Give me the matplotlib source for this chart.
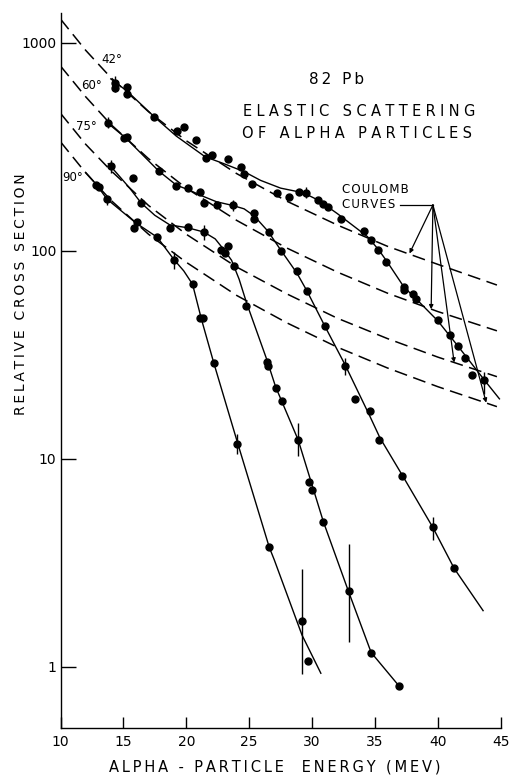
import matplotlib
matplotlib.use("Agg")
import matplotlib.pyplot as plt

# ---- Coulomb (point-charge) curves, dashed ----
coul_x = [10, 12, 14, 17, 20, 24, 28, 32, 36, 40, 44.7]
coul_42 = [1300, 920, 680, 466, 338, 235, 173, 133, 105, 86, 68.4]
coul_60 = [773, 550, 405, 277, 200, 140, 103, 79, 62.5, 51, 41.2]
coul_75 = [458, 325, 243, 165, 120, 83.5, 62, 47.4, 37.8, 30.8, 24.8]
coul_90 = [334, 237, 175, 120, 88, 61, 45, 34.4, 27.3, 22.2, 17.8]

# ---- smooth curves drawn through the measurements ----
fit42_x = [14.0, 15.3, 17.5, 19.2, 21.5, 23.0, 24.6, 25.9, 27.5, 29.3, 30.5, 32.0,
           34.4, 35.3, 36.0, 37.3, 38.3, 40.0, 41.6, 43.7, 44.9]
fit42_y = [670, 585, 438, 356, 283, 262, 240, 218, 200, 190, 175, 151,
           117, 101, 88, 67, 58.5, 46, 34.8, 23.9, 19.4]
fit60_x = [13.6, 15.2, 17.8, 19.2, 20.2, 21.3, 22.4, 23.7, 24.6, 25.4, 26.5, 27.5,
           28.8, 29.6, 31.0, 32.6, 34.6, 35.4, 37.2, 39.6, 41.3, 43.6]
fit60_y = [418, 348, 242, 207, 196, 183, 172, 165, 159, 147, 124, 101,
           78, 64, 43.6, 28.5, 16.0, 12.6, 8.28, 4.68, 2.97, 1.86]
fit75_x = [13.8, 14.5, 15.5, 16.4, 17.5, 18.7, 20.1, 21.4, 22.3, 23.0, 23.6, 24.2,
           24.8, 26.4, 27.1, 28.9, 30.9, 32.9, 34.7, 36.9]
fit75_y = [262, 235, 200, 170, 148, 133, 129, 123, 114, 101, 90, 73,
           56, 30, 22.2, 12.3, 4.98, 2.3, 1.17, 0.81]
fit90_x = [12.0, 12.8, 13.7, 16.0, 17.7, 19.0, 19.8, 20.5, 21.2, 22.2, 24.1, 26.6,
           27.0, 29.2, 30.7]
fit90_y = [238, 210, 177, 136, 116, 91, 80, 69, 47, 28.7, 11.8, 3.75,
           3.26, 1.42, 0.93]

# ---- measured points ----
pts42_x = [14.34, 14.34, 15.27, 15.31, 17.46, 19.24, 19.82, 20.75, 21.55, 22.03, 23.35,
           24.34, 24.62, 25.24, 27.25, 28.2, 29.0, 29.53, 30.49, 30.9, 31.3, 32.29,
           34.15, 34.68, 35.28, 35.87, 37.3, 37.35, 38.0, 38.26, 40.0, 40.93, 41.57,
           42.18, 42.68, 43.7]
pts42_y = [642, 604, 611, 565, 438, 377, 392, 341, 280, 290, 277,
           253, 234, 210, 190, 182, 192, 190, 175, 168, 163, 142,
           124, 112, 101, 88, 67, 65, 61.7, 58.6, 46.3, 39.3, 34.8,
           30.4, 25.3, 23.9]
pts60_x = [13.8, 15.08, 15.27, 17.84, 19.19, 20.17, 21.12, 21.42, 22.43, 23.7, 25.42,
           25.42, 26.56, 27.5, 28.84, 29.58, 31.02, 32.63, 33.43, 34.57, 35.36, 37.19,
           39.6, 41.28]
pts60_y = [412, 349, 351, 241, 205, 200, 192, 169, 166, 165, 152,
           142, 123, 100, 80, 64.3, 43.6, 27.9, 19.4, 17.0, 12.3, 8.28,
           4.68, 2.97]
pts75_x = [14.02, 15.74, 16.4, 18.71, 20.12, 21.42, 22.77, 23.09, 23.35, 23.83, 24.73,
           26.4, 26.53, 27.14, 27.65, 28.92, 29.77, 29.98, 30.91, 32.93, 34.7, 36.93]
pts75_y = [255, 223, 169, 128, 130, 123, 101, 97, 105, 84.7, 54.2,
           29.3, 27.9, 21.9, 18.9, 12.3, 7.75, 7.07, 4.98, 2.3, 1.17, 0.81]
pts90_x = [12.8, 13.09, 13.68, 15.87, 16.06, 17.7, 19.03, 20.52, 21.1, 21.31, 22.21,
           24.07, 26.6, 29.19, 29.67]
pts90_y = [208, 203, 177, 128, 137, 116, 90, 69, 47.3, 47.3, 28.7,
           11.8, 3.75, 1.66, 1.07]

# ---- error bars (low / high) ----
err_x = [14.34, 29.53, 43.7, 13.8, 23.7, 32.63, 39.6, 14.02, 21.42, 28.92, 32.93,
         13.68, 19.03, 24.07, 29.19]
err_lo = [581, 179, 20.4, 388, 155, 25.3, 4.06, 236, 113, 10.3, 1.32,
          165, 82, 10.5, 0.92]
err_hi = [690, 202, 26.2, 438, 175, 30.4, 5.26, 274, 133, 14.8, 3.88,
          184, 98.6, 13.2, 2.94]

angle_labels = ["42°", "60°", "75°", "90°"]
angle_label_pos = [(14.1, 830), (12.45, 625), (12.05, 394), (10.95, 226)]

x_ticks = [10, 15, 20, 25, 30, 35, 40, 45]
y_ticks = [1, 10, 100, 1000]
y_tick_labels = ["1", "10", "100", "1000"]

# Coulomb arrow: leader start, apex, and arrow tips on the dashed curves
lead_start = (37.0, 166)
apex = (39.61, 166)
arrow_tips = [(37.75, 97), (39.47, 52.3), (41.3, 29.0), (43.85, 18.6)]

W, H = 517, 776


def spaced(text, gap="\u2009"):
    return gap.join(text)


fig = plt.figure(figsize=(W / 100, H / 100), dpi=100)
ax = fig.add_axes([60.5 / W, 1 - 727.7 / H, 440.2 / W, 714.7 / H])
ax.set_yscale("log")
ax.set_xlim(10, 45)
ax.set_ylim(0.509, 1390)

dash = (0, (8.5, 4.3))
for cy in (coul_42, coul_60, coul_75, coul_90):
    ax.plot(coul_x, cy, color="black", lw=1.1, ls=dash, zorder=2)

for fx, fy in ((fit42_x, fit42_y), (fit60_x, fit60_y), (fit75_x, fit75_y), (fit90_x, fit90_y)):
    ax.plot(fx, fy, color="black", lw=1.0, zorder=3)

for px, py in ((pts42_x, pts42_y), (pts60_x, pts60_y), (pts75_x, pts75_y), (pts90_x, pts90_y)):
    ax.plot(px, py, ls="none", marker="o", ms=5.0, color="black", zorder=4)

ax.vlines(err_x, err_lo, err_hi, color="black", lw=1.0, zorder=4)

for lab, (lx, ly) in zip(angle_labels, angle_label_pos):
    ax.text(lx, ly, lab, fontsize=8.5, ha="center", va="center")

# COULOMB CURVES callout
ax.text(32.4, 196, spaced("COULOMB", "\u200a"), fontsize=8.5, ha="left", va="center")
ax.text(32.4, 167, spaced("CURVES", "\u200a"), fontsize=8.5, ha="left", va="center")
ax.plot([lead_start[0], apex[0]], [lead_start[1], apex[1]], color="black", lw=0.9)
for tip in arrow_tips:
    ax.annotate("", xy=tip, xytext=apex,
                arrowprops=dict(arrowstyle="-|>", lw=0.9, color="black",
                                mutation_scale=6, shrinkA=0, shrinkB=0))

# Titles
wide = "\u2009\u200a"
fig.text(337 / W, 1 - 80 / H, spaced("82 Pb"), fontsize=11, ha="center", va="center")
fig.text(359 / W, 1 - 111 / H, spaced("ELASTIC SCATTERING", wide), fontsize=10.5,
         ha="center", va="center")
fig.text(357 / W, 1 - 133 / H, spaced("OF ALPHA PARTICLES", wide), fontsize=10.5,
         ha="center", va="center")

# Axes styling
for side in ("top", "right"):
    ax.spines[side].set_visible(False)
for side in ("left", "bottom"):
    ax.spines[side].set_linewidth(1.0)

ax.set_xticks(x_ticks)
ax.set_xticklabels([str(v) for v in x_ticks])
ax.set_yticks(y_ticks)
ax.set_yticklabels(y_tick_labels)
ax.yaxis.set_minor_locator(matplotlib.ticker.NullLocator())
ax.tick_params(axis="x", direction="in", length=8, width=1.0, labelsize=10, pad=5)
ax.tick_params(axis="y", direction="in", length=11, width=1.0, labelsize=10, pad=3)

fig.text(275 / W, 1 - 767 / H, spaced("ALPHA - PARTICLE  ENERGY (MEV)"), fontsize=10.5,
         ha="center", va="center")
fig.text(21 / W, 1 - 294 / H, spaced("RELATIVE CROSS SECTION"), fontsize=10,
         ha="center", va="center", rotation=90)

fig.savefig("out.png", dpi=100)
